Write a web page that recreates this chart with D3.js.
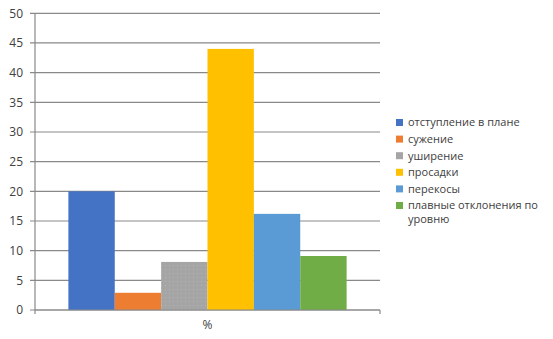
<!DOCTYPE html>
<html><head><meta charset="utf-8">
<script src="https://cdn.jsdelivr.net/npm/d3@7"></script>
<style>body{margin:0;background:#fff}svg{display:block}text{font-family:"Open Sans","Noto Sans",sans-serif}</style>
</head><body><svg id="c" width="553" height="339"></svg>
<script>
const categories = ["%"];
const seriesNames = ["отступление в плане","сужение","уширение","просадки","перекосы","плавные отклонения по уровню"];
const seriesValues = [20, 2.9, 8.1, 44, 16.2, 9.1];
const seriesColors = ["#4472C4","#ED7D31","#A5A5A5","#FFC000","#5B9BD5","#70AD47"];
const yTicks = [0,5,10,15,20,25,30,35,40,45,50];

const svg = d3.select("#c");
const defs = svg.append("defs");
const pat = defs.append("pattern").attr("id","dots").attr("width",4).attr("height",4).attr("patternUnits","userSpaceOnUse");
pat.append("rect").attr("width",4).attr("height",4).attr("fill","#A5A5A5");
pat.append("rect").attr("x",1).attr("y",1).attr("width",1).attr("height",1).attr("fill","#b4b4b4");

const x0 = 35, x1 = 380, yTop = 13.3, yBot = 310;
const y = d3.scaleLinear().domain([0,50]).range([yBot,yTop]);
const xBand = d3.scaleBand().domain(categories).range([x0,x1]).paddingInner(0).paddingOuter(0.1);
const xSeries = d3.scaleBand().domain(seriesNames).range([0, xBand.bandwidth()]).paddingOuter(0.1);

// gridlines
svg.append("g").selectAll("line").data(yTicks).join("line")
  .attr("x1",x0-5).attr("x2",x1).attr("y1",d=>y(d)).attr("y2",d=>y(d))
  .attr("stroke","#898989").attr("stroke-width",1.2);

// y labels
svg.append("g").selectAll("text").data(yTicks).join("text")
  .attr("x",23).attr("y",d=>y(d)).attr("dy","0.35em").attr("text-anchor","end")
  .attr("font-size",12).attr("fill","#404040").text(d=>d);

// y axis line
svg.append("line").attr("x1",x0).attr("x2",x0).attr("y1",yTop).attr("y2",yBot+4).attr("stroke","#898989").attr("stroke-width",1.2);

// bars
const g = svg.append("g");
categories.forEach(cat=>{
  g.selectAll("rect").data(seriesNames).join("rect")
    .attr("x",(s)=>xBand(cat)+xSeries(s))
    .attr("width",xSeries.bandwidth())
    .attr("y",(s,i)=>y(seriesValues[i]))
    .attr("height",(s,i)=>yBot-y(seriesValues[i]))
    .attr("fill",(s,i)=> i===2 ? "url(#dots)" : seriesColors[i]);
});

// x axis
svg.append("line").attr("x1",x0).attr("x2",x1).attr("y1",yBot).attr("y2",yBot).attr("stroke","#898989").attr("stroke-width",1.2);
svg.append("line").attr("x1",x1).attr("x2",x1).attr("y1",yBot).attr("y2",yBot+4).attr("stroke","#898989").attr("stroke-width",1.2);
svg.append("g").selectAll("text").data(categories).join("text")
  .attr("x",d=>xBand(d)+xBand.bandwidth()/2).attr("y",329).attr("text-anchor","middle")
  .attr("font-size",12).attr("fill","#404040").text(d=>d);

// legend
const legRows = [[seriesNames[0]],[seriesNames[1]],[seriesNames[2]],[seriesNames[3]],[seriesNames[4]],["плавные отклонения по","уровню"]];
const lg = svg.append("g");
seriesNames.forEach((s,i)=>{
  const cy = 122.5 + i*16.6;
  lg.append("rect").attr("x",396).attr("y",cy-3.5).attr("width",7).attr("height",7).attr("fill",seriesColors[i]);
  legRows[i].forEach((t,j)=>{
    lg.append("text").attr("x",408).attr("y",cy+j*14).attr("dy","0.35em")
      .attr("font-size",11).attr("fill","#404040").text(t);
  });
});
</script></body></html>
